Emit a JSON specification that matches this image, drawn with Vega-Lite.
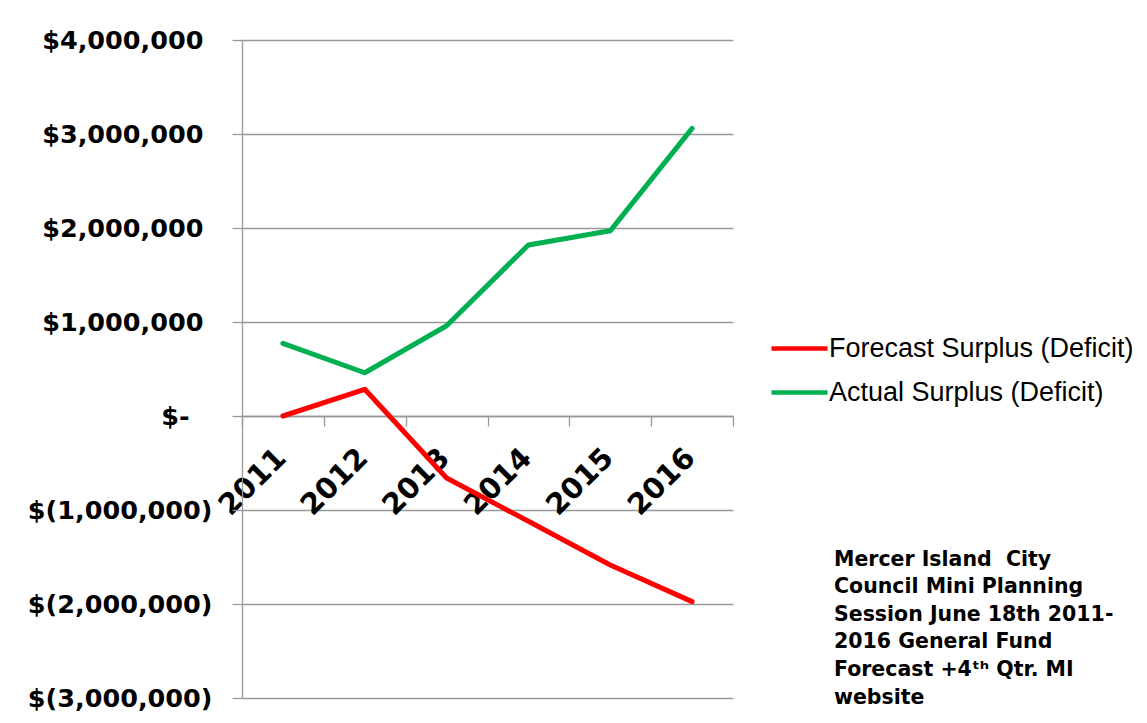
{
  "$schema": "https://vega.github.io/schema/vega-lite/v6.json",
  "autosize": {"type": "none"},
  "width": 491,
  "height": 658,
  "padding": {"left": 242, "top": 40, "right": 414, "bottom": 25},
  "background": "white",
  "title": {
    "text": [
      "Mercer Island\u00a0 City",
      "Council Mini Planning",
      "Session June 18th 2011-",
      "2016 General Fund",
      "Forecast +4ᵗʰ Qtr. MI",
      "website"
    ],
    "orient": "top",
    "anchor": "start",
    "frame": "group",
    "align": "left",
    "baseline": "alphabetic",
    "font": "DejaVu Sans",
    "fontWeight": "bold",
    "fontSize": 20.5,
    "lineHeight": 27.6,
    "color": "black",
    "offset": 0,
    "dx": 592,
    "dy": 696
  },
  "data": {
    "values": [
      {"year": "2011", "series": "Forecast Surplus (Deficit)", "value": 0},
      {"year": "2012", "series": "Forecast Surplus (Deficit)", "value": 284000},
      {"year": "2013", "series": "Forecast Surplus (Deficit)", "value": -660000},
      {"year": "2014", "series": "Forecast Surplus (Deficit)", "value": -1120000},
      {"year": "2015", "series": "Forecast Surplus (Deficit)", "value": -1585000},
      {"year": "2016", "series": "Forecast Surplus (Deficit)", "value": -1975000},
      {"year": "2011", "series": "Actual Surplus (Deficit)", "value": 773000},
      {"year": "2012", "series": "Actual Surplus (Deficit)", "value": 460000},
      {"year": "2013", "series": "Actual Surplus (Deficit)", "value": 960000},
      {"year": "2014", "series": "Actual Surplus (Deficit)", "value": 1820000},
      {"year": "2015", "series": "Actual Surplus (Deficit)", "value": 1970000},
      {"year": "2016", "series": "Actual Surplus (Deficit)", "value": 3060000}
    ]
  },
  "mark": {"type": "line", "strokeWidth": 5, "strokeCap": "round", "strokeJoin": "round"},
  "encoding": {
    "x": {
      "field": "year",
      "type": "ordinal",
      "bandPosition": 0.5,
      "scale": {"type": "band", "paddingInner": 0, "paddingOuter": 0},
      "axis": {
        "orient": "bottom",
        "offset": -282,
        "title": null,
        "grid": false,
        "tickBand": "extent",
        "tickSize": 10,
        "tickColor": "#999999",
        "tickWidth": 1.3,
        "domainColor": "#999999",
        "domainWidth": 1.3,
        "labelAngle": -45,
        "labelFont": "DejaVu Sans",
        "labelFontWeight": "bold",
        "labelFontSize": 29,
        "labelColor": "black",
        "labelPadding": 17,
        "labelOffset": -12
      }
    },
    "y": {
      "field": "value",
      "type": "quantitative",
      "scale": {"domain": [-3000000, 4000000], "nice": false, "zero": false},
      "axis": {
        "title": null,
        "values": [-3000000, -2000000, -1000000, 0, 1000000, 2000000, 3000000, 4000000],
        "labelExpr": "datum.value == 0 ? '$-' : datum.value < 0 ? '$(' + format(-datum.value, ',') + ')' : '$' + format(datum.value, ',')",
        "labelFont": "DejaVu Sans",
        "labelFontWeight": "bold",
        "labelFontSize": 25.5,
        "labelColor": "black",
        "labelLimit": 400,
        "labelPadding": {
          "condition": [
            {"test": "datum.value == 0", "value": 43},
            {"test": "datum.value > 0", "value": 29}
          ],
          "value": 20
        },
        "tickSize": 10,
        "tickColor": "#999999",
        "tickWidth": 1.3,
        "domainColor": "#999999",
        "domainWidth": 1.3,
        "grid": true,
        "gridColor": "#999999",
        "gridWidth": 1.3
      }
    },
    "color": {
      "field": "series",
      "type": "nominal",
      "scale": {
        "domain": ["Forecast Surplus (Deficit)", "Actual Surplus (Deficit)"],
        "range": ["#ff0000", "#00b050"]
      },
      "legend": {
        "title": null,
        "orient": "none",
        "legendX": 527,
        "legendY": 278,
        "padding": 0,
        "symbolType": "stroke",
        "symbolSize": 3136,
        "symbolStrokeWidth": 4.5,
        "labelFont": "Liberation Sans",
        "labelFontSize": 27,
        "labelColor": "black",
        "labelOffset": -1,
        "rowPadding": -9.3,
        "labelLimit": 400
      }
    }
  },
  "config": {"view": {"stroke": null}}
}
